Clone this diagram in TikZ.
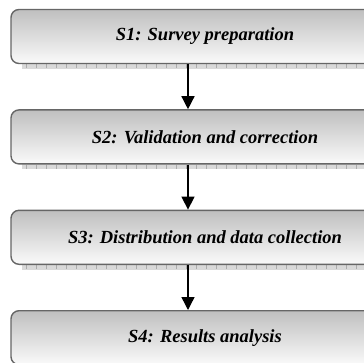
\documentclass[tikz,border=0pt]{standalone}
\usepackage{fontspec}
\setmainfont{Liberation Serif}
\usetikzlibrary{positioning, arrows.meta, backgrounds}

\tikzset{
    stepbox/.style={draw=gray!80!black, line width=1.4pt, rounded corners=8pt,
        minimum width=388pt, minimum height=54pt, inner sep=0pt,
        top color=gray!50, bottom color=gray!4,
        font=\fontsize{18.5}{22}\selectfont\bfseries\itshape},
    flow/.style={line width=1.4pt, -{Triangle[width=13pt,length=13pt]}}
}

\begin{document}
\begin{tikzpicture}[x=1pt, y=-1pt]
            \clip (0,0) rectangle (364,362);

            \node[stepbox] (s1) at (205,36.5) {S1: Survey preparation};
            \node[stepbox, below=45pt of s1] (s2) {S2: Validation and correction};
            \node[stepbox, below=45pt of s2] (s3) {S3: Distribution and data collection};
            \node[stepbox, below=45pt of s3] (s4) {S4: Results analysis};

            % shadow strips under the boxes
            \begin{scope}[on background layer]
            \foreach \n in {s1, s2, s3}
                {
                    \fill[gray!30] ([xshift=12pt, yshift=2pt]\n.south west) rectangle ([yshift=-4.5pt]\n.south east);
                    \draw[gray!65, line width=4pt, dash pattern=on 0.6pt off 9.4pt]
                        ([xshift=16pt, yshift=-2.2pt]\n.south west) -- ([yshift=-2.2pt]\n.south east);
                }
            \end{scope}

            \coordinate (ax) at (188,0);
            \draw[flow] (s1.south -| ax) -- (s2.north -| ax);
            \draw[flow] (s2.south -| ax) -- (s3.north -| ax);
            \draw[flow] (s3.south -| ax) -- (s4.north -| ax);
        \end{tikzpicture}
\end{document}
